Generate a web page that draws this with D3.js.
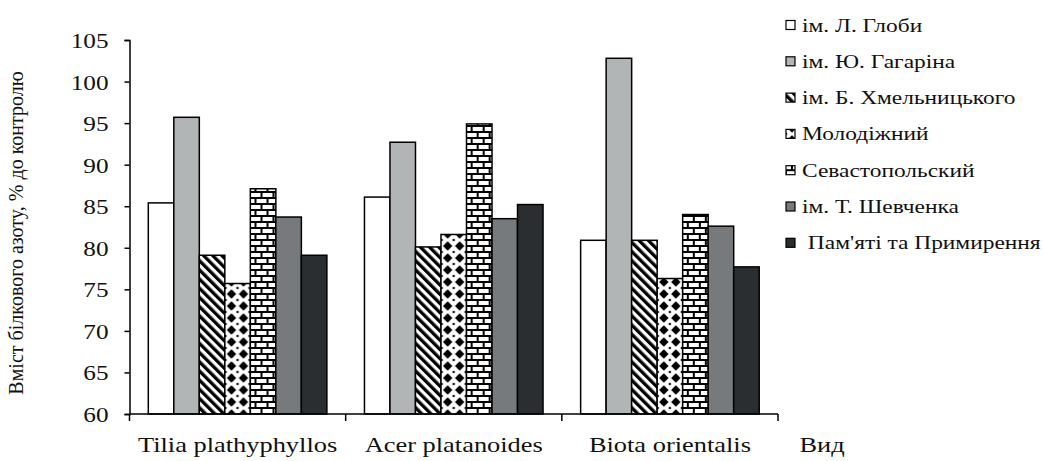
<!DOCTYPE html>
<html><head><meta charset="utf-8">
<script src="https://cdn.jsdelivr.net/npm/d3@7"></script>
<style>body{margin:0;background:#fff}svg{display:block}</style>
</head><body><svg id="c" width="1043" height="461"></svg>
<script>
const categories = ["Tilia plathyphyllos", "Acer platanoides", "Biota orientalis"];
const seriesNames = ["ім. Л. Глоби", "ім. Ю. Гагаріна", "ім. Б. Хмельницького", "Молодіжний", "Севастопольский", "ім. Т. Шевченка", " Пам'яті та Примирення"];
const globy =     [85.4, 86.1, 80.9];
const gagarina =  [95.7, 92.7, 102.8];
const khmeln =    [79.1, 80.1, 80.9];
const molod =     [75.7, 81.6, 76.3];
const sevast =    [87.1, 94.9, 84.0];
const shevch =    [83.7, 83.5, 82.6];
const pamyati =   [79.1, 85.2, 77.7];
const seriesValues = [globy, gagarina, khmeln, molod, sevast, shevch, pamyati];
const yTicks = [60, 65, 70, 75, 80, 85, 90, 95, 100, 105];
const yTitle = "Вміст білкового азоту, % до контролю";
const xTitle = "Вид";

const FONT = "Liberation Serif";
const SX = 1.2; // horizontal stretch of the reference's text
const fills = ["#ffffff", "#b2b5b5", "url(#pStripe)", "url(#pDiamond)", "url(#pBrick)", "#777a7c", "#2b2e31"];

const svg = d3.select("#c");
const defs = svg.append("defs");
// stripes
const ps = defs.append("pattern").attr("id","pStripe").attr("patternUnits","userSpaceOnUse")
  .attr("width",6.5).attr("height",6.5).attr("patternTransform","rotate(-45)");
ps.append("rect").attr("width",6.5).attr("height",6.5).attr("fill","#fff");
ps.append("rect").attr("width",3.3).attr("height",6.5).attr("fill","#000");
// diamonds
const pd = defs.append("pattern").attr("id","pDiamond").attr("patternUnits","userSpaceOnUse")
  .attr("width",12).attr("height",12);
pd.append("rect").attr("width",12).attr("height",12).attr("fill","#fff");
pd.append("path").attr("d","M6,1.3 L10.7,6 L6,10.7 L1.3,6Z").attr("fill","#000");
[[0,0],[12,0],[0,12],[12,12]].forEach(([cx,cy])=>pd.append("path").attr("d",`M${cx},${cy-1.5} L${cx+1.5},${cy} L${cx},${cy+1.5} L${cx-1.5},${cy}Z`).attr("fill","#000"));
// bricks
const pb = defs.append("pattern").attr("id","pBrick").attr("patternUnits","userSpaceOnUse")
  .attr("width",12).attr("height",12);
pb.append("rect").attr("width",12).attr("height",12).attr("fill","#000");
pb.append("rect").attr("x",1).attr("y",1).attr("width",10).attr("height",4).attr("fill","#fff");
pb.append("rect").attr("x",-5).attr("y",7).attr("width",10).attr("height",4).attr("fill","#fff");
pb.append("rect").attr("x",7).attr("y",7).attr("width",10).attr("height",4).attr("fill","#fff");

const x0 = d3.scaleBand().domain(categories).range([129.5, 778]).paddingInner(0).paddingOuter(0);
const x1 = d3.scaleBand().domain(d3.range(seriesNames.length)).range([18.8, x0.bandwidth()-18.8]);
const y = d3.scaleLinear().domain([60, 105]).range([414, 40]);

// bars
const groups = svg.append("g").selectAll("g").data(categories).join("g")
  .attr("transform", d => `translate(${x0(d)},0)`);
groups.selectAll("rect").data((c,ci) => seriesValues.map((s,si)=>({si, v:s[ci]}))).join("rect")
  .attr("x", d => x1(d.si)).attr("width", x1.bandwidth())
  .attr("y", d => y(d.v)).attr("height", d => y(60) - y(d.v))
  .attr("fill", d => fills[d.si]).attr("stroke","#000").attr("stroke-width",1.5);

// helper for horizontally stretched text
function stext(sel, x, yy, anchor, size, txt) {
  const t = sel.append("text").attr("x",x).attr("y",yy)
    .attr("text-anchor",anchor).attr("font-family",FONT).attr("font-size",size)
    .attr("fill","#111").attr("xml:space","preserve").text(txt);
  const w = t.node().getComputedTextLength();
  t.attr("textLength", w*SX).attr("lengthAdjust","spacingAndGlyphs");
  return t;
}

// y axis
const ya = svg.append("g").attr("transform","translate(129.5,0)")
  .call(d3.axisLeft(y).tickValues(yTicks).tickSize(5).tickPadding(10).tickFormat(d3.format("d")));
ya.attr("font-family",FONT);
ya.select(".domain").attr("stroke","#000").attr("stroke-width",1.5);
ya.selectAll(".tick line").attr("stroke","#000").attr("stroke-width",1.5);
ya.selectAll(".tick text").remove();
ya.selectAll(".tick").each(function(d){
  stext(d3.select(this), -21, 7.5, "end", 21, d3.format("d")(d));
});

// x axis
const xa = svg.append("g").attr("transform","translate(0,414)");
xa.append("line").attr("x1",129.5).attr("x2",778).attr("stroke","#000").attr("stroke-width",1.5);
const bounds = categories.map(c => x0(c)).concat([x0(categories[categories.length-1]) + x0.bandwidth()]);
xa.selectAll("line.tk").data(bounds).join("line").attr("class","tk")
  .attr("x1",d=>d).attr("x2",d=>d).attr("y1",0).attr("y2",7).attr("stroke","#000").attr("stroke-width",1.5);
categories.forEach(c => stext(xa, x0(c) + x0.bandwidth()/2, 38, "middle", 22, c));
stext(xa, 822, 38, "middle", 22, xTitle);

// y title
svg.append("text").attr("transform","translate(23,233) rotate(-90)").attr("text-anchor","middle")
  .attr("font-family",FONT).attr("font-size",20).attr("fill","#111").text(yTitle);

// legend
const leg = svg.append("g").selectAll("g").data(seriesNames).join("g")
  .attr("transform",(d,i)=>`translate(786,${25 + i*36.3})`);
leg.append("rect").attr("x",0).attr("y",-4.5).attr("width",9).attr("height",9)
  .attr("fill",(d,i)=>fills[i]).attr("stroke","#000").attr("stroke-width",1.2);
leg.each(function(d){ stext(d3.select(this), 16, 6.5, "start", 19.5, d); });
</script></body></html>
